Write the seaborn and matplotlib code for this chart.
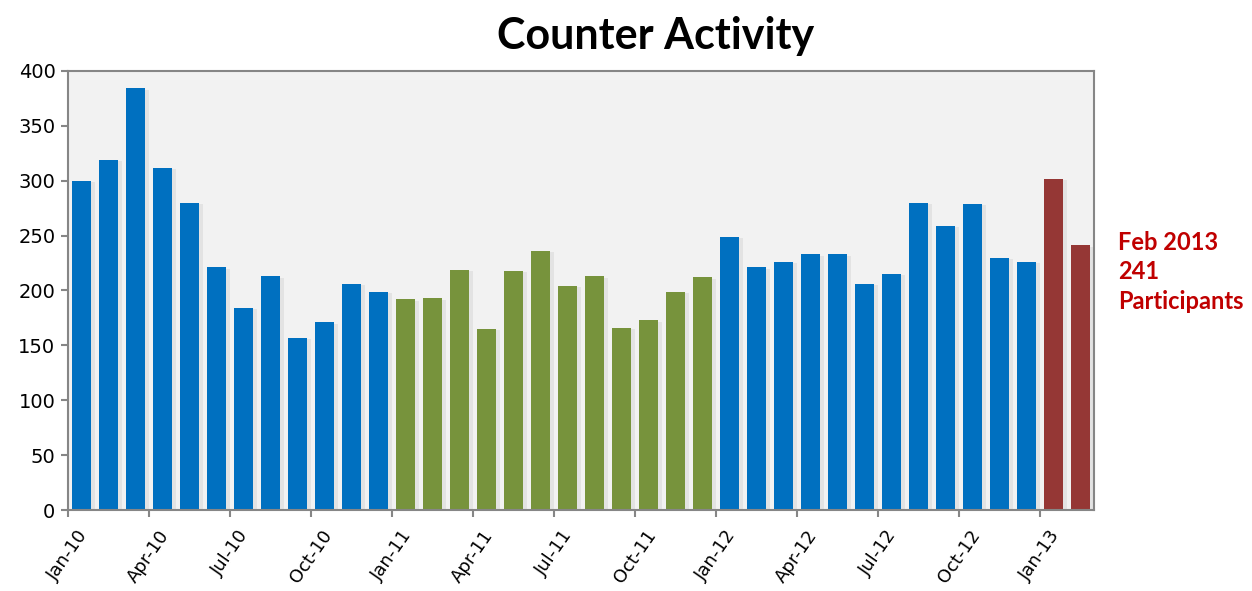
import matplotlib
matplotlib.use("Agg")
import matplotlib.pyplot as plt
import matplotlib.patheffects as pe
import seaborn as sns
import pandas as pd

months = [f"{m}-{y}" for y in ["10", "11", "12"] for m in
          ["Jan", "Feb", "Mar", "Apr", "May", "Jun", "Jul", "Aug", "Sep", "Oct", "Nov", "Dec"]] + ["Jan-13", "Feb-13"]
values_2010 = [300, 319, 384, 312, 280, 221, 184, 213, 157, 171, 206, 199]
values_2011 = [192, 193, 219, 165, 218, 236, 204, 213, 166, 173, 199, 212]
values_2012 = [249, 221, 226, 233, 233, 206, 215, 280, 259, 279, 230, 226]
values_2013 = [302, 241]
groups = ["2010"] * 12 + ["2011"] * 12 + ["2012"] * 12 + ["2013"] * 2
tick_labels = ["Jan-10", "Apr-10", "Jul-10", "Oct-10", "Jan-11", "Apr-11", "Jul-11",
               "Oct-11", "Jan-12", "Apr-12", "Jul-12", "Oct-12", "Jan-13"]
palette = {"2010": "#0070C0", "2011": "#77933C", "2012": "#0070C0", "2013": "#953735"}

df = pd.DataFrame({"month": months,
                   "count": values_2010 + values_2011 + values_2012 + values_2013,
                   "group": groups})

sns.set_style("white")
plt.rcParams["text.color"] = "black"
fig = plt.figure(figsize=(12.52, 5.91), dpi=100)
ax = fig.add_axes([0.0543, 0.137, 0.8195, 0.743])
ax.set_facecolor("#F2F2F2")

sns.barplot(data=df, x="month", y="count", hue="group", palette=palette,
            dodge=False, width=0.67, legend=False, ax=ax, order=months,
            saturation=1, linewidth=0)
for p in ax.patches:
    p.set_path_effects([pe.SimplePatchShadow(offset=(3, -1), shadow_rgbFace="#c8c8c8", alpha=0.35), pe.Normal()])

ax.set_xlim(-0.5, len(months) - 0.5)
ax.set_ylim(0, 400)
ax.set_yticks(range(0, 401, 50))
ax.set_xticks([i * 3 - 0.5 for i in range(len(tick_labels))])
ax.set_xticklabels(tick_labels, rotation=55, ha="center", va="top", fontsize=13)
ax.tick_params(axis="y", labelsize=14, length=5, width=1.5, color="#868686", direction="out",
               left=True, pad=4, labelcolor="black")
ax.tick_params(axis="x", length=5, width=1.5, color="#868686", direction="out", bottom=True,
               pad=7, labelcolor="black")
ax.set_xlabel("")
ax.set_ylabel("")
for s in ax.spines.values():
    s.set_color("#868686")
    s.set_linewidth(1.5)

fig.text(0.524, 0.939, "Counter Activity", ha="center", va="center",
         fontsize=31, fontweight="bold", family="Lato", color="black")
fig.text(0.893, 0.54, "Feb 2013\n241\nParticipants", ha="left", va="center",
         fontsize=17, fontweight="bold", color="#C00000", family="Lato", linespacing=1.36)

fig.savefig("out.png", dpi=100)
